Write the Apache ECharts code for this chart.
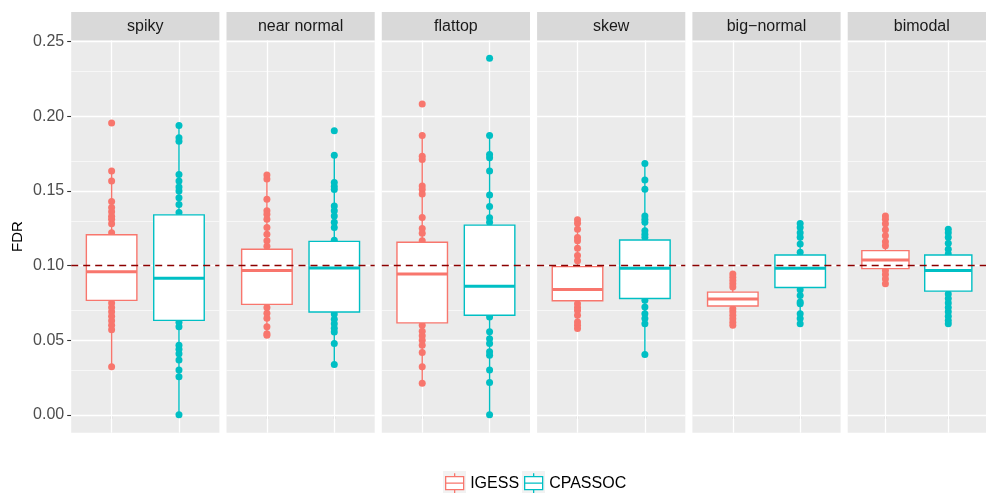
<!DOCTYPE html>
<html><head><meta charset="utf-8">
<script src="https://cdn.jsdelivr.net/npm/echarts@6/dist/echarts.min.js"></script>
<style>html,body{margin:0;padding:0;background:#fff}#c{width:986px;height:493px}</style>
</head><body><div id="c"></div>
<script>
// ---------------- data ----------------
const panels = ['spiky', 'near normal', 'flattop', 'skew', 'big\u2212normal', 'bimodal'];
const methods = ['IGESS', 'CPASSOC'];
const yTicks = [0, 0.05, 0.10, 0.15, 0.20, 0.25];
const yTickLabels = ['0.00', '0.05', '0.10', '0.15', '0.20', '0.25'];
const yMinorTicks = [0.025, 0.075, 0.125, 0.175, 0.225];
const refValue = 0.10;
const yRange = [-0.01195, 0.2508];

// box stats per panel: [lower whisker, Q1, median, Q3, upper whisker]
const igessBox = [
  [0.0322, 0.0767, 0.0958, 0.1207, 0.1633],
  [0.0533, 0.0740, 0.0967, 0.1110, 0.1607],
  [0.0211, 0.0616, 0.0944, 0.1156, 0.1871],
  [0.0578, 0.0764, 0.0840, 0.0993, 0.1307],
  [0.0600, 0.0729, 0.0776, 0.0822, 0.0944],
  [0.0878, 0.0980, 0.1038, 0.1100, 0.1280]
];
const cpassocBox = [
  [0.0000, 0.0633, 0.0916, 0.1340, 0.1938],
  [0.0338, 0.0689, 0.0984, 0.1162, 0.1740],
  [0.0000, 0.0667, 0.0862, 0.1271, 0.1871],
  [0.0404, 0.0780, 0.0982, 0.1171, 0.1684],
  [0.0611, 0.0853, 0.0982, 0.1071, 0.1282],
  [0.0611, 0.0829, 0.0967, 0.1071, 0.1244]
];
// individual FDR values visible outside the boxes
const igessPoints = [
  [0.1956, 0.1633, 0.1567, 0.143, 0.139, 0.136, 0.133, 0.131, 0.128, 0.122, 0.075, 0.072, 0.069, 0.066, 0.063, 0.060, 0.057, 0.0322],
  [0.1607, 0.158, 0.1444, 0.1367, 0.1344, 0.131, 0.1256, 0.121, 0.1167, 0.113, 0.072, 0.068, 0.0647, 0.059, 0.0544, 0.0533],
  [0.2082, 0.1871, 0.1733, 0.171, 0.1533, 0.151, 0.148, 0.1322, 0.1249, 0.1216, 0.1167, 0.060, 0.056, 0.053, 0.050, 0.0467, 0.0418, 0.0322, 0.0211],
  [0.1307, 0.1284, 0.1244, 0.1189, 0.1167, 0.1116, 0.1067, 0.1033, 0.0744, 0.072, 0.070, 0.0667, 0.0622, 0.060, 0.0578],
  [0.0944, 0.0922, 0.090, 0.0878, 0.0856, 0.0711, 0.069, 0.0667, 0.0644, 0.062, 0.060],
  [0.1333, 0.131, 0.128, 0.124, 0.120, 0.116, 0.1133, 0.0967, 0.094, 0.0911, 0.0878]
];
const cpassocPoints = [
  [0.1938, 0.1856, 0.1833, 0.161, 0.1567, 0.1527, 0.150, 0.1455, 0.141, 0.1356, 0.062, 0.059, 0.0467, 0.044, 0.041, 0.0367, 0.030, 0.0256, 0.0],
  [0.1904, 0.174, 0.1556, 0.153, 0.151, 0.140, 0.1367, 0.1333, 0.129, 0.1256, 0.117, 0.0675, 0.064, 0.061, 0.058, 0.0555, 0.0478, 0.0338],
  [0.2389, 0.1871, 0.1744, 0.1722, 0.1633, 0.1473, 0.1396, 0.132, 0.129, 0.0656, 0.0556, 0.051, 0.0478, 0.0422, 0.040, 0.030, 0.0216, 0.0],
  [0.1684, 0.1573, 0.1511, 0.1333, 0.131, 0.129, 0.1233, 0.121, 0.119, 0.0767, 0.0722, 0.0678, 0.0645, 0.0611, 0.0404],
  [0.1282, 0.1256, 0.122, 0.119, 0.1145, 0.1089, 0.0838, 0.080, 0.0756, 0.0745, 0.0678, 0.0645, 0.0611],
  [0.1244, 0.122, 0.119, 0.115, 0.111, 0.1078, 0.081, 0.078, 0.075, 0.072, 0.069, 0.066, 0.0633, 0.0611]
];

// ---------------- styling / layout ----------------
const colors = ['#F8766D', '#00BFC4'];
const FONT = '"Liberation Sans", Arial, Helvetica, sans-serif';
const panelLeft0 = 71.2, panelStep = 155.3, panelW = 148.2;
const panelTop = 40.5, panelH = 392.2;
const stripTop = 12, stripH = 28.5;
const legendLefts = [443, 522];
const legendTop = 471, keySize = 23;

const boxStats = [igessBox, cpassocBox];
const pointSets = [igessPoints, cpassocPoints];

function renderBox(params, api) {
  const x = api.value(0);
  const lo = api.coord([x, api.value(1)]);
  const q1 = api.coord([x, api.value(2)]);
  const md = api.coord([x, api.value(3)]);
  const q3 = api.coord([x, api.value(4)]);
  const hi = api.coord([x, api.value(5)]);
  const l = api.coord([x - 0.375, 0])[0];
  const r = api.coord([x + 0.375, 0])[0];
  const c = api.visual('color');
  const lw = 1.4;
  return {
    type: 'group',
    children: [
      { type: 'line', shape: { x1: lo[0], y1: lo[1], x2: q1[0], y2: q1[1] }, style: { stroke: c, lineWidth: lw } },
      { type: 'line', shape: { x1: q3[0], y1: q3[1], x2: hi[0], y2: hi[1] }, style: { stroke: c, lineWidth: lw } },
      { type: 'rect', shape: { x: l, y: q3[1], width: r - l, height: q1[1] - q3[1] }, style: { fill: '#ffffff', stroke: c, lineWidth: lw } },
      { type: 'line', shape: { x1: l, y1: md[1], x2: r, y2: md[1] }, style: { stroke: c, lineWidth: 3 } }
    ]
  };
}

const grids = [], xAxes = [], yAxes = [], series = [], graphics = [];
panels.forEach((p, g) => {
  const left = panelLeft0 + g * panelStep;
  grids.push({ left: left, top: panelTop, width: panelW, height: panelH, show: true,
    backgroundColor: '#EBEBEB', borderWidth: 0 });
  xAxes.push({ type: 'value', gridIndex: g, min: 0.4, max: 2.6,
    axisLine: { show: false }, splitLine: { show: false },
    axisTick: { show: true, customValues: [1, 2], length: 4, lineStyle: { color: '#333333', width: 1.1 } },
    axisLabel: { show: false } });
  yAxes.push({ type: 'value', gridIndex: g, min: yRange[0], max: yRange[1],
    axisLine: { show: false }, splitLine: { show: false },
    axisTick: { show: g === 0, customValues: yTicks, length: 4, lineStyle: { color: '#333333', width: 1.1 } },
    axisLabel: { show: g === 0, customValues: yTicks, margin: 7, color: '#4D4D4D', fontSize: 16, fontFamily: FONT,
      formatter: v => { const i = yTicks.findIndex(t => Math.abs(t - v) < 1e-9); return i >= 0 ? yTickLabels[i] : ''; } },
    name: g === 0 ? 'FDR' : '', nameLocation: 'middle', nameRotate: 90, nameGap: 46,
    nameTextStyle: { color: '#000000', fontSize: 15, fontFamily: FONT } });

  // panel grid lines
  series.push({ type: 'scatter', name: '_grid', xAxisIndex: g, yAxisIndex: g, data: [], silent: true,
    markLine: { silent: true, symbol: 'none', z: 1, animation: false, label: { show: false },
      data: [
        ...yMinorTicks.map(v => ({ yAxis: v, lineStyle: { color: '#FFFFFF', width: 0.6, type: 'solid' } })),
        ...yTicks.map(v => ({ yAxis: v, lineStyle: { color: '#FFFFFF', width: 1.3, type: 'solid' } })),
        ...[1, 2].map(v => ({ xAxis: v, lineStyle: { color: '#FFFFFF', width: 1.3, type: 'solid' } }))
      ] } });

  methods.forEach((m, k) => {
    series.push({ type: 'scatter', name: m, xAxisIndex: g, yAxisIndex: g, z: 2,
      symbolSize: 7, itemStyle: { color: colors[k], opacity: 1 },
      data: pointSets[k][g].map(v => [k + 1, v]), silent: true });
    series.push({ type: 'custom', name: m, xAxisIndex: g, yAxisIndex: g, z: 3,
      itemStyle: { color: colors[k] }, renderItem: renderBox,
      encode: { x: 0, y: [1, 2, 3, 4, 5] },
      data: [[k + 1, ...boxStats[k][g]]], silent: true });
  });

  // reference line
  series.push({ type: 'scatter', name: '_ref', xAxisIndex: g, yAxisIndex: g, data: [], silent: true,
    markLine: { silent: true, symbol: 'none', z: 6, animation: false, label: { show: false },
      data: [{ yAxis: refValue, lineStyle: { color: '#8B0000', width: 1.3, type: [7, 5] } }] } });

  // facet strip
  graphics.push({ type: 'rect', left: left, top: stripTop, shape: { width: panelW, height: stripH },
    style: { fill: '#D9D9D9' }, silent: true });
  graphics.push({ type: 'text', x: left + panelW / 2, y: stripTop + stripH / 2 + 0.5,
    style: { text: p, fill: '#1A1A1A', font: '16px ' + FONT, align: 'center', verticalAlign: 'middle',
      textAlign: 'center', textVerticalAlign: 'middle' }, silent: true });
});

// legend key backgrounds
legendLefts.forEach(x => {
  graphics.push({ type: 'rect', left: x, top: legendTop, z: -1, shape: { width: keySize, height: keySize },
    style: { fill: '#F2F2F2' }, silent: true });
});

const legends = methods.map((m, k) => ({
  left: legendLefts[k] + 2, top: legendTop + 1.5, itemWidth: 19, itemHeight: 20, itemGap: 0, padding: 0,
  icon: 'path://M10 0V3.5M1 3.5H19V16.5H1ZM1 10H19M10 16.5V20',
  textStyle: { color: '#000000', fontSize: 16, fontFamily: FONT, padding: [0, 0, 0, 1] },
  data: [{ name: m, itemStyle: { color: '#FFFFFF', borderColor: colors[k], borderWidth: 1.3 } }]
}));

const chart = echarts.init(document.getElementById('c'), null, { renderer: 'canvas' });
chart.setOption({
  animation: false,
  backgroundColor: '#FFFFFF',
  grid: grids, xAxis: xAxes, yAxis: yAxes, series: series, graphic: graphics,
  legend: legends
});
</script>
</body></html>
